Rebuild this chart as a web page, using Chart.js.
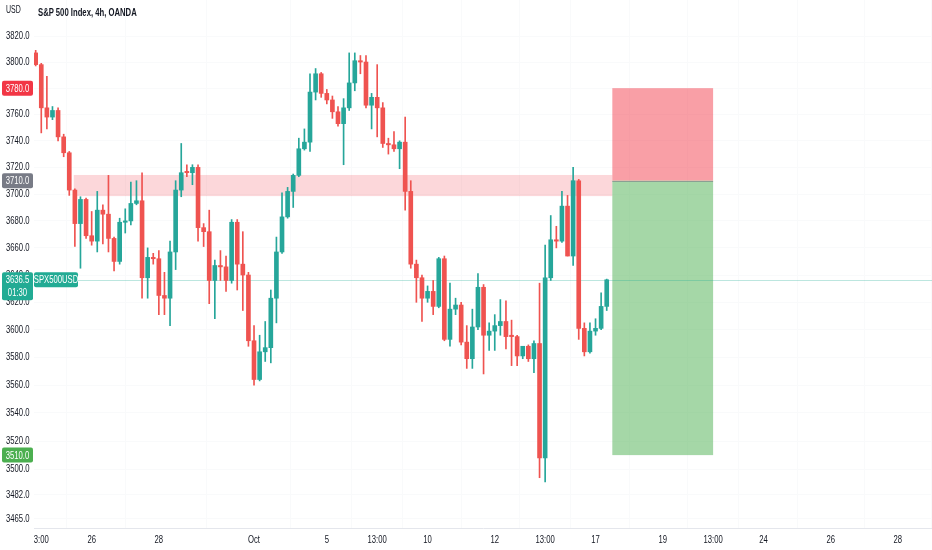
<!DOCTYPE html>
<html>
<head>
<meta charset="utf-8">
<script src="https://cdn.jsdelivr.net/npm/chart.js@4"></script>
<style>
  body { margin: 0; background: #fff; }
  #wrap { position: relative; width: 932px; height: 550px; }
  .lbl { position: absolute; font-family: "Liberation Sans", sans-serif; color: #131722; transform: scaleX(0.7); transform-origin: 0 0; white-space: nowrap; }
</style>
</head>
<body>
<div id="wrap">
  <canvas id="chart" width="932" height="550"></canvas>
  <div class="lbl" style="left:6px;top:4px;font-size:10px;">USD</div>
  <div class="lbl" style="left:38px;top:6px;font-size:11px;font-weight:bold;">S&amp;P 500 Index, 4h, OANDA</div>
</div>
<script>
// 4h candles
let opens  = [3807,3798,3765,3758,3763,3743,3731,3703,3678,3696,3669,3665,3688,3685,3667,3650,3679,3680,3693,3695,
              3638,3653,3652,3625,3623,3657,3703,3717,3716,3720,3675,3672,3636,3647,3646,3636,3679,3648,3640,3592,
              3564,3584,3587,3623,3657,3683,3702,3714,3734,3739,3777,3791,3776,3771,3762,3753,3765,3784,3801,3800,
              3767,3773,3765,3738,3737,3734,3739,3702,3648,3638,3623,3628,3617,3652,3593,3615,3618,3591,3579,3602,
              3631,3596,3599,3603,3606,3596,3595,3581,3588,3579,3590,3508,3638,3666,3665,3691,3654,3710,3601,3584,
              3599,3601,3617];
let highs  = [3809,3799,3789,3766,3765,3745,3732,3704,3698,3697,3687,3702,3692,3714,3668,3682,3689,3709,3710,3716,
              3660,3656,3658,3642,3665,3710,3738,3722,3722,3722,3678,3688,3651,3658,3654,3681,3681,3672,3642,3603,
              3596,3606,3629,3668,3701,3705,3715,3742,3749,3791,3795,3792,3779,3774,3766,3772,3807,3807,3805,3805,
              3776,3798,3769,3742,3747,3740,3758,3710,3651,3640,3632,3636,3653,3654,3634,3623,3620,3603,3615,3641,
              3633,3605,3611,3622,3621,3607,3596,3584,3589,3592,3634,3662,3684,3676,3702,3699,3720,3711,3605,3605,
              3608,3627,3637];
let lows   = [3797,3746,3749,3756,3740,3728,3699,3661,3645,3667,3662,3657,3663,3657,3643,3648,3671,3677,3692,3623,
              3623,3648,3611,3611,3603,3644,3698,3713,3707,3665,3661,3619,3608,3636,3628,3634,3629,3614,3588,3560,
              3563,3577,3576,3605,3656,3682,3690,3713,3733,3732,3771,3773,3768,3757,3751,3722,3763,3778,3791,3765,
              3749,3743,3735,3730,3732,3719,3688,3645,3620,3606,3620,3611,3616,3592,3588,3611,3589,3572,3572,3600,
              3568,3585,3585,3596,3586,3574,3574,3579,3577,3569,3494,3491,3636,3660,3664,3654,3647,3593,3581,3583,
              3596,3600,3614];
let closes = [3798,3765,3758,3763,3743,3731,3703,3678,3696,3669,3665,3688,3685,3667,3650,3679,3680,3693,3695,3638,
              3653,3652,3625,3623,3657,3703,3716,3716,3720,3675,3672,3636,3647,3646,3636,3679,3648,3640,3592,3564,
              3584,3587,3623,3657,3683,3702,3714,3734,3739,3777,3791,3776,3771,3762,3753,3765,3784,3801,3800,3767,
              3773,3765,3738,3737,3734,3739,3702,3648,3638,3623,3628,3617,3652,3593,3615,3618,3591,3579,3602,3631,
              3596,3599,3603,3606,3595,3595,3581,3588,3579,3590,3508,3638,3666,3665,3691,3654,3710,3601,3584,3599,
              3601,3617,3636.5];

// time axis labels (bar index -> text)
let tickIdx  = [1, 10, 22, 39, 52, 61, 70, 82, 91, 100, 112, 121, 130, 142, 154];
let tickText = ["3:00","26","28","Oct","5","13:00","10","12","13:00","17","19","13:00","24","26","28"];

// price scale labels
let priceTicks = [3820,3800,3780,3760,3740,3720,3700,3680,3660,3640,3620,3600,3580,3560,3540,3520,3500,3482,3465];

// drawings
let zoneLow = 3698.5, zoneHigh = 3714.3, zoneStart = 6.8;
let entry = 3710, stop = 3780, target = 3510;
let boxStart = 103, boxEnd = 121;
let lastPrice = 3636.5;

const UP = "#26a69a", DOWN = "#ef5350";
let colors = closes.map((c, i) => c >= opens[i] ? UP : DOWN);
let bodies = closes.map((c, i) => ({ x: i, y: [opens[i], c] }));
let wicks = closes.map((c, i) => ({ x: i, y: [lows[i], highs[i]] }));

const FONT = "'Liberation Sans', sans-serif";
const SQ = 0.7; // text in the screenshot is horizontally squeezed

function narrowText(ctx, t, x, y, align, color, size) {
    ctx.save();
    ctx.font = size + "px " + FONT;
    ctx.fillStyle = color;
    ctx.textAlign = align;
    ctx.textBaseline = "middle";
    ctx.translate(x, y);
    ctx.scale(SQ, 1);
    ctx.fillText(t, 0, 0);
    ctx.restore();
}

function tag(ctx, x, yc, w, h, bg, lines) {
    ctx.fillStyle = bg;
    ctx.beginPath();
    ctx.roundRect(x, yc - 7.5, w, h, 2);
    ctx.fill();
    lines.forEach((t, k) => narrowText(ctx, t, x + w / 2, yc + k * 13 + 0.5, "center", "#fff", 11));
}

const overlay = {
    id: "overlay",
    beforeDatasetsDraw(chart) {
        let { ctx, chartArea: a, scales: { x, y } } = chart;
        ctx.save();
        // resistance zone
        let zx1 = x.getPixelForValue(zoneStart), zx2 = x.getPixelForValue(boxStart);
        let zy1 = y.getPixelForValue(zoneHigh), zy2 = y.getPixelForValue(zoneLow);
        ctx.fillStyle = "rgba(242,54,69,0.2)";
        ctx.fillRect(zx1, zy1, zx2 - zx1, zy2 - zy1);
        // short position box
        let bx1 = x.getPixelForValue(boxStart), bx2 = x.getPixelForValue(boxEnd);
        let yS = y.getPixelForValue(stop), yE = y.getPixelForValue(entry), yT = y.getPixelForValue(target);
        ctx.fillStyle = "rgba(242,54,69,0.48)";
        ctx.fillRect(bx1, yS, bx2 - bx1, yE - yS);
        ctx.fillStyle = "rgba(76,175,80,0.5)";
        ctx.fillRect(bx1, yE, bx2 - bx1, yT - yE);
        ctx.strokeStyle = "rgba(120,123,134,0.6)";
        ctx.lineWidth = 1;
        ctx.beginPath();
        ctx.moveTo(bx1, Math.round(yE) + 0.5);
        ctx.lineTo(bx2, Math.round(yE) + 0.5);
        ctx.stroke();
        // last price line
        let yp = Math.round(y.getPixelForValue(lastPrice)) + 0.5;
        ctx.strokeStyle = "rgba(34,171,148,0.3)";
        ctx.beginPath();
        ctx.moveTo(a.left, yp);
        ctx.lineTo(a.right, yp);
        ctx.stroke();
        ctx.restore();
    },
    afterDraw(chart) {
        let { ctx, chartArea: a, scales: { x, y } } = chart;
        ctx.save();
        // axis labels
        y.ticks.forEach(t => narrowText(ctx, t.value.toFixed(1), 6, y.getPixelForValue(t.value), "left", "#131722", 11));
        x.ticks.forEach(t => narrowText(ctx, tickText[tickIdx.indexOf(t.value)], x.getPixelForValue(t.value), a.bottom + 11.5, "center", "#131722", 11));
        // price tags
        tag(ctx, 2, y.getPixelForValue(stop), 31, 15, "#f23645", [stop.toFixed(1)]);
        tag(ctx, 2, y.getPixelForValue(entry), 31, 15, "#787b86", [entry.toFixed(1)]);
        tag(ctx, 2, y.getPixelForValue(target), 31, 15, "#4caf50", [target.toFixed(1)]);
        let yp = y.getPixelForValue(lastPrice);
        tag(ctx, 2, yp, 31, 28, "#22ab94", [lastPrice.toFixed(1), "01:30"]);
        tag(ctx, 34, yp, 44, 15, "#22ab94", ["SPX500USD"]);
        ctx.restore();
    }
};

new Chart(document.getElementById("chart"), {
    type: "bar",
    data: {
        datasets: [
            { data: wicks, backgroundColor: colors, barThickness: 1, grouped: false, order: 2 },
            { data: bodies, backgroundColor: colors, barThickness: 4, grouped: false, minBarLength: 1, order: 1 }
        ]
    },
    options: {
        responsive: false,
        animation: false,
        layout: { padding: { left: 6, top: 0, right: 0, bottom: 0 } },
        plugins: { legend: { display: false }, tooltip: { enabled: false } },
        scales: {
            x: {
                type: "linear",
                offset: false,
                min: -0.3,
                max: 160.1,
                afterBuildTicks: s => { s.ticks = tickIdx.map(v => ({ value: v })); },
                afterFit: s => { s.height = 22; s.paddingLeft = 0; s.paddingRight = 0; },
                ticks: { display: false, autoSkip: false },
                grid: { color: "#f9fafb", drawTicks: false },
                border: { display: true, color: "#e4e6ec" }
            },
            y: {
                type: "logarithmic",
                position: "left",
                min: 3458.7,
                max: 3847.9,
                afterBuildTicks: s => { s.ticks = priceTicks.map(v => ({ value: v })); },
                afterFit: s => { s.width = 28; s.paddingTop = 0; s.paddingBottom = 0; },
                ticks: { display: false, autoSkip: false },
                grid: { color: "#f9fafb", drawTicks: false },
                border: { display: false }
            }
        }
    },
    plugins: [overlay]
});
</script>
</body>
</html>
